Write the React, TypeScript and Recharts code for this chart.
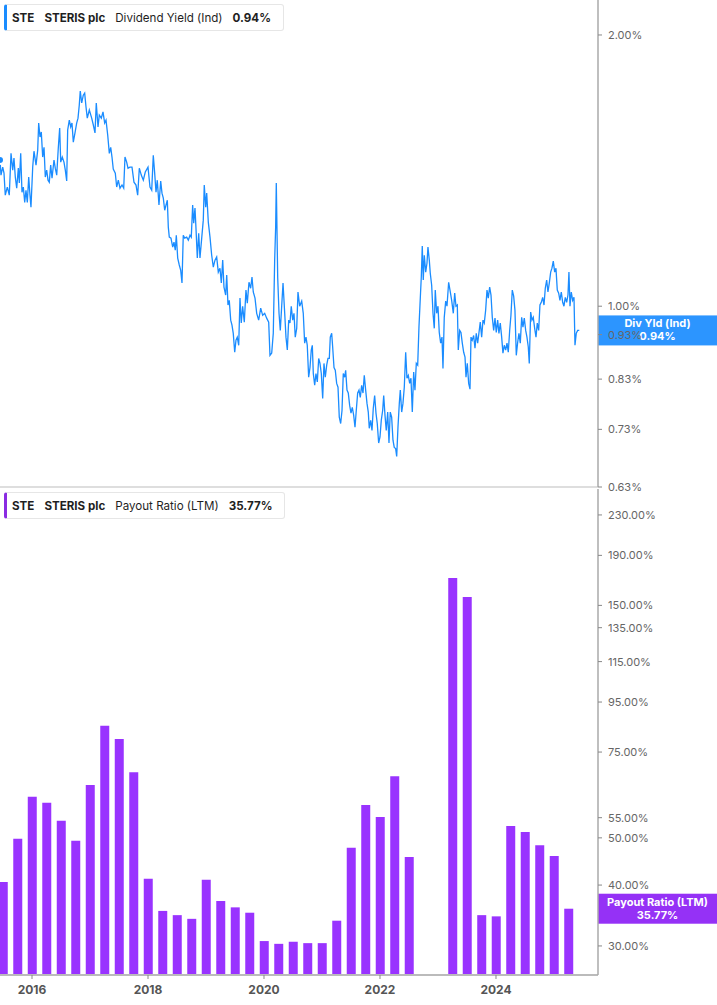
import React from 'react';
import { LineChart, Line, BarChart, Bar, XAxis, YAxis, ReferenceLine } from 'recharts';

const FONT = 'Inter, "Noto Sans", sans-serif';
const W = 717;
const AXIS_W = 119;

// Dividend Yield (Ind), in % as [decimal year, value]
const yieldSeries: [number, number][] = [
  [2015.448, 1.453], [2015.465, 1.398], [2015.495, 1.427], [2015.517, 1.405], [2015.539, 1.328],
  [2015.574, 1.356], [2015.608, 1.328], [2015.638, 1.478], [2015.667, 1.416], [2015.689, 1.46],
  [2015.712, 1.391], [2015.736, 1.352], [2015.764, 1.423], [2015.781, 1.37], [2015.805, 1.478],
  [2015.827, 1.338], [2015.85, 1.356], [2015.874, 1.304], [2015.896, 1.345], [2015.919, 1.304],
  [2015.943, 1.391], [2015.965, 1.328], [2015.982, 1.288], [2016.012, 1.427], [2016.034, 1.486],
  [2016.069, 1.434], [2016.098, 1.49], [2016.115, 1.597], [2016.138, 1.541], [2016.16, 1.561],
  [2016.184, 1.464], [2016.207, 1.501], [2016.229, 1.391], [2016.253, 1.416], [2016.276, 1.38],
  [2016.298, 1.373], [2016.322, 1.434], [2016.345, 1.387], [2016.379, 1.453], [2016.401, 1.423],
  [2016.426, 1.398], [2016.453, 1.498], [2016.477, 1.577], [2016.495, 1.445], [2016.522, 1.464],
  [2016.551, 1.445], [2016.574, 1.416], [2016.598, 1.377], [2016.615, 1.569], [2016.643, 1.609],
  [2016.667, 1.581], [2016.689, 1.597], [2016.712, 1.521], [2016.741, 1.557], [2016.77, 1.597],
  [2016.793, 1.617], [2016.815, 1.672], [2016.832, 1.733], [2016.857, 1.681], [2016.884, 1.715],
  [2016.908, 1.724], [2016.931, 1.664], [2016.953, 1.617], [2016.988, 1.651], [2017.029, 1.617],
  [2017.057, 1.589], [2017.086, 1.557], [2017.108, 1.681], [2017.138, 1.581], [2017.16, 1.63],
  [2017.195, 1.617], [2017.224, 1.643], [2017.253, 1.597], [2017.276, 1.609], [2017.305, 1.549],
  [2017.333, 1.478], [2017.357, 1.501], [2017.379, 1.464], [2017.401, 1.42], [2017.436, 1.405],
  [2017.46, 1.356], [2017.488, 1.38], [2017.517, 1.352], [2017.552, 1.363], [2017.581, 1.352],
  [2017.603, 1.464], [2017.632, 1.445], [2017.655, 1.423], [2017.689, 1.427], [2017.724, 1.427],
  [2017.758, 1.373], [2017.793, 1.363], [2017.822, 1.328], [2017.85, 1.423], [2017.884, 1.398],
  [2017.919, 1.38], [2017.953, 1.409], [2018.0, 1.427], [2018.034, 1.356], [2018.064, 1.345],
  [2018.091, 1.471], [2018.115, 1.405], [2018.138, 1.338], [2018.16, 1.38], [2018.189, 1.295],
  [2018.219, 1.377], [2018.241, 1.335], [2018.264, 1.318], [2018.288, 1.278], [2018.31, 1.295],
  [2018.333, 1.311], [2018.35, 1.224], [2018.367, 1.193], [2018.396, 1.19], [2018.426, 1.163],
  [2018.448, 1.178], [2018.47, 1.154], [2018.488, 1.199], [2018.512, 1.131], [2018.539, 1.111],
  [2018.564, 1.096], [2018.586, 1.061], [2018.608, 1.199], [2018.632, 1.19], [2018.667, 1.193],
  [2018.695, 1.184], [2018.724, 1.199], [2018.746, 1.193], [2018.77, 1.295], [2018.788, 1.236],
  [2018.81, 1.285], [2018.827, 1.221], [2018.85, 1.131], [2018.874, 1.205], [2018.896, 1.131],
  [2018.926, 1.19], [2018.953, 1.246], [2018.97, 1.363], [2018.995, 1.288], [2019.012, 1.335],
  [2019.04, 1.239], [2019.069, 1.193], [2019.098, 1.139], [2019.126, 1.105], [2019.155, 1.125],
  [2019.184, 1.134], [2019.212, 1.091], [2019.241, 1.102], [2019.264, 1.061], [2019.288, 1.125],
  [2019.31, 1.05], [2019.339, 1.029], [2019.357, 1.083], [2019.379, 1.003], [2019.401, 1.015],
  [2019.426, 0.965], [2019.448, 0.953], [2019.47, 0.933], [2019.495, 0.889], [2019.517, 0.917],
  [2019.539, 0.924], [2019.564, 0.905], [2019.586, 1.021], [2019.608, 0.958], [2019.632, 1.0],
  [2019.66, 0.96], [2019.689, 1.042], [2019.712, 1.008], [2019.741, 1.063], [2019.77, 1.047],
  [2019.793, 1.077], [2019.815, 1.037], [2019.845, 1.021], [2019.874, 0.982], [2019.908, 0.965],
  [2019.943, 0.995], [2019.977, 0.977], [2020.012, 0.982], [2020.046, 0.97], [2020.081, 0.96],
  [2020.103, 0.882], [2020.133, 0.887], [2020.16, 0.933], [2020.184, 1.125], [2020.201, 1.224],
  [2020.212, 1.37], [2020.236, 1.077], [2020.259, 0.982], [2020.281, 0.94], [2020.305, 1.0],
  [2020.328, 1.061], [2020.357, 0.982], [2020.379, 0.924], [2020.402, 0.894], [2020.426, 0.965],
  [2020.448, 0.958], [2020.47, 1.0], [2020.495, 0.965], [2020.517, 0.982], [2020.539, 0.924],
  [2020.564, 0.945], [2020.586, 1.037], [2020.615, 1.0], [2020.65, 1.013], [2020.677, 0.982],
  [2020.701, 0.91], [2020.724, 0.924], [2020.746, 0.905], [2020.77, 0.834], [2020.793, 0.855],
  [2020.815, 0.894], [2020.833, 0.905], [2020.85, 0.842], [2020.874, 0.817], [2020.896, 0.842],
  [2020.919, 0.824], [2020.943, 0.875], [2020.965, 0.864], [2020.988, 0.842], [2021.012, 0.79],
  [2021.034, 0.864], [2021.057, 0.834], [2021.081, 0.86], [2021.103, 0.875], [2021.126, 0.875],
  [2021.143, 0.924], [2021.167, 0.933], [2021.184, 0.901], [2021.207, 0.855], [2021.229, 0.849],
  [2021.253, 0.821], [2021.276, 0.813], [2021.298, 0.753], [2021.322, 0.741], [2021.345, 0.766],
  [2021.367, 0.842], [2021.391, 0.834], [2021.408, 0.849], [2021.431, 0.807], [2021.453, 0.801],
  [2021.477, 0.776], [2021.5, 0.761], [2021.522, 0.772], [2021.546, 0.757], [2021.569, 0.734],
  [2021.591, 0.766], [2021.615, 0.801], [2021.638, 0.807], [2021.66, 0.792], [2021.684, 0.817],
  [2021.707, 0.801], [2021.729, 0.838], [2021.753, 0.807], [2021.776, 0.78], [2021.798, 0.763],
  [2021.815, 0.732], [2021.839, 0.747], [2021.862, 0.728], [2021.884, 0.77], [2021.908, 0.796],
  [2021.931, 0.761], [2021.953, 0.741], [2021.977, 0.705], [2022.0, 0.716], [2022.022, 0.747],
  [2022.046, 0.766], [2022.064, 0.796], [2022.086, 0.757], [2022.108, 0.728], [2022.133, 0.763],
  [2022.155, 0.705], [2022.177, 0.763], [2022.201, 0.753], [2022.224, 0.71], [2022.246, 0.697],
  [2022.27, 0.695], [2022.288, 0.681], [2022.31, 0.734], [2022.333, 0.78], [2022.35, 0.807],
  [2022.374, 0.763], [2022.396, 0.78], [2022.419, 0.813], [2022.443, 0.889], [2022.465, 0.832],
  [2022.488, 0.838], [2022.512, 0.821], [2022.534, 0.832], [2022.557, 0.763], [2022.581, 0.845],
  [2022.603, 0.807], [2022.626, 0.864], [2022.65, 0.86], [2022.672, 0.948], [2022.695, 1.021],
  [2022.712, 1.077], [2022.729, 1.166], [2022.746, 1.069], [2022.764, 1.139], [2022.788, 1.091],
  [2022.81, 1.116], [2022.827, 1.163], [2022.85, 1.125], [2022.867, 1.088], [2022.891, 1.055],
  [2022.914, 0.982], [2022.936, 0.945], [2022.953, 1.042], [2022.977, 0.982], [2023.0, 1.0],
  [2023.022, 0.935], [2023.046, 0.91], [2023.069, 0.924], [2023.086, 0.853], [2023.108, 0.972],
  [2023.133, 1.013], [2023.155, 1.0], [2023.184, 1.063], [2023.207, 1.042], [2023.236, 1.015],
  [2023.264, 0.982], [2023.288, 1.034], [2023.31, 1.0], [2023.333, 1.003], [2023.35, 0.894],
  [2023.374, 0.94], [2023.396, 0.935], [2023.419, 0.91], [2023.443, 0.889], [2023.466, 0.878],
  [2023.483, 0.834], [2023.505, 0.864], [2023.529, 0.821], [2023.552, 0.809], [2023.569, 0.924],
  [2023.591, 0.917], [2023.615, 0.928], [2023.638, 0.898], [2023.66, 0.933], [2023.684, 0.91],
  [2023.707, 0.935], [2023.729, 0.96], [2023.753, 0.924], [2023.776, 0.965], [2023.798, 0.958],
  [2023.822, 0.99], [2023.845, 1.042], [2023.867, 1.021], [2023.891, 1.05], [2023.914, 1.029],
  [2023.936, 0.972], [2023.96, 0.94], [2023.983, 0.97], [2024.005, 0.935], [2024.029, 0.965],
  [2024.051, 0.933], [2024.074, 0.958], [2024.098, 0.924], [2024.12, 0.887], [2024.143, 0.905],
  [2024.167, 0.894], [2024.19, 0.91], [2024.212, 0.889], [2024.236, 0.94], [2024.258, 0.977],
  [2024.281, 1.042], [2024.305, 1.026], [2024.327, 0.99], [2024.35, 0.882], [2024.374, 0.912],
  [2024.396, 0.933], [2024.419, 0.91], [2024.443, 0.972], [2024.465, 0.948], [2024.488, 0.97],
  [2024.512, 0.94], [2024.534, 0.924], [2024.557, 0.901], [2024.574, 0.864], [2024.598, 0.985],
  [2024.621, 0.965], [2024.643, 0.972], [2024.667, 0.945], [2024.69, 0.924], [2024.712, 0.958],
  [2024.736, 0.94], [2024.758, 1.003], [2024.781, 1.01], [2024.805, 1.023], [2024.828, 1.003],
  [2024.85, 1.047], [2024.874, 1.069], [2024.896, 1.037], [2024.919, 1.061], [2024.943, 1.091],
  [2024.965, 1.102], [2024.988, 1.122], [2025.012, 1.091], [2025.034, 1.102], [2025.057, 1.042],
  [2025.081, 1.034], [2025.103, 1.015], [2025.126, 1.037], [2025.15, 1.01], [2025.172, 1.0],
  [2025.195, 1.023], [2025.219, 1.01], [2025.241, 1.029], [2025.258, 1.091], [2025.276, 1.0],
  [2025.298, 1.037], [2025.322, 1.015], [2025.345, 1.023], [2025.362, 0.905], [2025.384, 0.933],
  [2025.408, 0.94], [2025.436, 0.94],
];

const yieldTicks = [0.63, 0.73, 0.83, 0.93, 1.0, 2.0];
const yieldDomain = [0.63, 2.187];

// Payout Ratio (LTM), %, one bar per fiscal quarter end
const quarters = [
  2015.5, 2015.75, 2016.0, 2016.25, 2016.5, 2016.75, 2017.0, 2017.25, 2017.5, 2017.75,
  2018.0, 2018.25, 2018.5, 2018.75, 2019.0, 2019.25, 2019.5, 2019.75, 2020.0, 2020.25,
  2020.5, 2020.75, 2021.0, 2021.25, 2021.5, 2021.75, 2022.0, 2022.25, 2022.5, 2022.75,
  2023.0, 2023.25, 2023.5, 2023.75, 2024.0, 2024.25, 2024.5, 2024.75, 2025.0, 2025.25,
];
const payoutValues: (number | null)[] = [
  40.6, 49.8, 60.7, 59.0, 54.2, 49.3, 64.2, 84.9, 79.8, 68.2,
  41.2, 35.4, 34.7, 34.1, 41.0, 37.1, 36.0, 35.1, 30.7, 30.3,
  30.6, 30.4, 30.4, 33.8, 47.7, 58.4, 55.2, 66.9, 45.7, null,
  null, 170.7, 156.0, 34.7, 34.5, 52.9, 51.4, 48.3, 45.9, 35.77,
];
const payoutTicks = [30, 40, 50, 55, 75, 95, 115, 135, 150, 190, 230];
const payoutDomain = [26.15, 260];

const yearTicks = [2016, 2018, 2020, 2022, 2024];
const xDomain = [2015.448, 2025.759];

const BLUE = '#1a8cff';
const PURPLE = '#9933ff';
const TAG_PURPLE = '#8c1ff5';

const yieldRows = yieldSeries.map(([t, v]) => ({ t, v }));
const payoutRows = quarters
  .map((q, i) => ({ q, p: payoutValues[i] }))
  .filter((r) => r.p != null);

const pct = (v: number) => `${v.toFixed(2)}%`;

const axisTick = { fill: '#666', fontSize: 11, fontFamily: FONT };

function PriceTag({ viewBox, title, value, color }: any) {
  if (!viewBox) return null;
  const x = viewBox.x + viewBox.width;
  const y = viewBox.y;
  const cx = x + (W - x) / 2;
  return (
    <g>
      <rect x={x} y={y - 15} width={W - x} height={30} fill={color} fillOpacity={0.92} />
      <text x={cx} y={y - 3} textAnchor="middle" fill="#fff" fontSize={11} fontWeight={700} fontFamily={FONT}>
        {title}
      </text>
      <text x={cx} y={y + 10} textAnchor="middle" fill="#fff" fontSize={11} fontWeight={700} fontFamily={FONT}>
        {value}
      </text>
    </g>
  );
}

function Header({ top, color, metric, value }: any) {
  return (
    <div
      style={{
        position: 'absolute',
        left: 4,
        top,
        height: 25,
        display: 'flex',
        alignItems: 'center',
        gap: 10,
        background: '#fff',
        border: '1px solid #e6e6e6',
        borderLeft: `3px solid ${color}`,
        borderRadius: 3,
        padding: '0 12px 0 5px',
        fontFamily: FONT,
        fontSize: 11.6,
        color: '#1f1f1f',
        whiteSpace: 'nowrap',
      }}
    >
      <b>STE</b>
      <b>STERIS plc</b>
      <span>{metric}</span>
      <b>{value}</b>
    </div>
  );
}

export default function App() {
  return (
    <div style={{ position: 'absolute', left: 0, top: 0, width: W, height: 1005, background: '#fff' }}>
      <LineChart width={W} height={500} data={yieldRows} margin={{ top: 0, right: 0, left: 0, bottom: 13 }}>
        <XAxis dataKey="t" type="number" domain={xDomain} allowDataOverflow hide />
        <YAxis
          orientation="right"
          width={AXIS_W}
          type="number"
          scale="log"
          domain={yieldDomain}
          allowDataOverflow
          ticks={yieldTicks}
          interval={0}
          tickFormatter={pct}
          tick={axisTick}
          tickSize={4}
          tickMargin={6}
          axisLine={{ stroke: '#aaa', strokeWidth: 1.5 }}
          tickLine={{ stroke: '#888' }}
        />
        <ReferenceLine y={0.63} stroke="#dedede" strokeWidth={2} />
        <Line
          type="linear"
          dataKey="v"
          stroke={BLUE}
          strokeWidth={1.3}
          dot={false}
          isAnimationActive={false}
        />
        <ReferenceLine
          y={0.94}
          stroke="none"
          label={<PriceTag title="Div Yld (Ind)" value="0.94%" color={BLUE} />}
        />
      </LineChart>

      <div style={{ position: 'absolute', left: 0, top: 488 }}>
        <BarChart width={W} height={517} data={payoutRows} margin={{ top: 1, right: 0, left: 0, bottom: 0 }}>
          <XAxis
            dataKey="q"
            type="number"
            domain={xDomain}
            allowDataOverflow
            ticks={yearTicks}
            interval={0}
            height={30}
            tick={{ fill: '#555', fontSize: 12, fontWeight: 700, fontFamily: FONT }}
            tickSize={4}
            tickMargin={6}
            axisLine={{ stroke: '#bbb', strokeWidth: 2 }}
            tickLine={{ stroke: '#888' }}
          />
          <YAxis
            orientation="right"
            width={AXIS_W}
            type="number"
            scale="log"
            domain={payoutDomain}
            allowDataOverflow
            ticks={payoutTicks}
            interval={0}
            tickFormatter={pct}
            tick={axisTick}
            tickSize={4}
            tickMargin={6}
            axisLine={{ stroke: '#aaa', strokeWidth: 1.5 }}
            tickLine={{ stroke: '#888' }}
          />
          <Bar dataKey="p" fill={PURPLE} barSize={9} isAnimationActive={false} />
          <ReferenceLine
            y={35.77}
            stroke="none"
            label={<PriceTag title="Payout Ratio (LTM)" value="35.77%" color={TAG_PURPLE} />}
          />
        </BarChart>
      </div>

      <Header top={4} color={BLUE} metric="Dividend Yield (Ind)" value="0.94%" />
      <Header top={492} color="#8a2be2" metric="Payout Ratio (LTM)" value="35.77%" />
    </div>
  );
}
